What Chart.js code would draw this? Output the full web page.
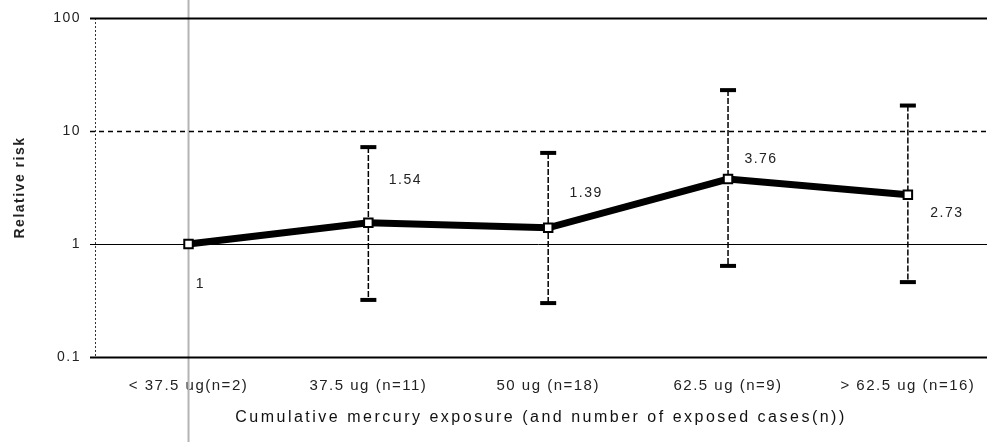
<!DOCTYPE html>
<html>
<head>
<meta charset="utf-8">
<script src="https://cdn.jsdelivr.net/npm/chart.js@4/dist/chart.umd.min.js"></script>
<style>
  html, body { margin: 0; padding: 0; background: #fff; }
  #wrap { width: 987px; height: 442px; }
</style>
</head>
<body>
<div id="wrap"><canvas id="riskChart"></canvas></div>
<script>
// -------------------- DATA --------------------
const categories = ["< 37.5 ug(n=2)", "37.5 ug (n=11)", "50 ug (n=18)", "62.5 ug (n=9)", "> 62.5 ug (n=16)"];
const relativeRisk = [1, 1.54, 1.39, 3.76, 2.73];
const upperCI = [null, 7.2, 6.4, 23, 16.8];
const lowerCI = [null, 0.32, 0.30, 0.64, 0.46];
const pointLabels = ["1", "1.54", "1.39", "3.76", "2.73"];
const yTicks = [0.1, 1, 10, 100];
const xTitle = "Cumulative mercury exposure (and number of exposed cases(n))";

// label offsets from the point (px)
const labelOffsets = [[12, 40], [37, -43], [38, -35], [33, -20], [39, 18]];

const FONT = "'Liberation Sans', Arial, sans-serif";

// -------------------- PLUGINS --------------------
const gridPlugin = {
  id: "gridPlugin",
  beforeDraw(chart) {
    // scanned text is spread out a bit
    chart.ctx.letterSpacing = "1.5px";
  },
  beforeDatasetsDraw(chart) {
    const { ctx, chartArea, scales } = chart;
    const y = scales.y;
    const x = scales.x;
    ctx.save();

    // grey vertical scan line at the first category
    const gx = x.getPixelForValue(0);
    ctx.strokeStyle = "#b4b4b4";
    ctx.lineWidth = 2;
    ctx.beginPath();
    ctx.moveTo(gx, 0);
    ctx.lineTo(gx, chart.height);
    ctx.stroke();

    // left dotted axis
    ctx.strokeStyle = "#333";
    ctx.lineWidth = 1;
    ctx.setLineDash([2, 2]);
    ctx.beginPath();
    ctx.moveTo(chartArea.left + 0.5, chartArea.top);
    ctx.lineTo(chartArea.left + 0.5, chartArea.bottom);
    ctx.stroke();

    // horizontal lines
    const lines = [
      { v: 100, w: 2, dash: [] },
      { v: 10, w: 1.5, dash: [5, 4] },
      { v: 1, w: 1, dash: [] },
      { v: 0.1, w: 2, dash: [] }
    ];
    lines.forEach((l) => {
      const py = Math.round(y.getPixelForValue(l.v)) + 0.5;
      ctx.strokeStyle = "#000";
      ctx.lineWidth = l.w;
      ctx.setLineDash(l.dash);
      ctx.beginPath();
      ctx.moveTo(chartArea.left - 5, py);
      ctx.lineTo(chartArea.right, py);
      ctx.stroke();
    });

    // error bars
    const meta = chart.getDatasetMeta(0);
    meta.data.forEach((pt, i) => {
      if (upperCI[i] == null) return;
      const px = pt.x;
      const yu = y.getPixelForValue(upperCI[i]);
      const yl = y.getPixelForValue(lowerCI[i]);
      ctx.strokeStyle = "#000";
      ctx.lineWidth = 1.5;
      ctx.setLineDash([6, 2]);
      ctx.beginPath();
      ctx.moveTo(px, yu);
      ctx.lineTo(px, yl);
      ctx.stroke();
      ctx.setLineDash([]);
      ctx.fillStyle = "#000";
      ctx.fillRect(px - 8, yu - 2, 16, 4);
      ctx.fillRect(px - 8, yl - 2, 16, 4);
    });

    ctx.restore();
  },
  afterDatasetsDraw(chart) {
    const { ctx, chartArea } = chart;
    const meta = chart.getDatasetMeta(0);
    ctx.save();
    ctx.font = "14px " + FONT;
    ctx.fillStyle = "#222";
    ctx.textAlign = "center";
    ctx.textBaseline = "middle";
    meta.data.forEach((pt, i) => {
      const off = labelOffsets[i];
      ctx.fillText(pointLabels[i], pt.x + off[0], pt.y + off[1]);
    });

    // x axis title
    ctx.letterSpacing = "2.5px";
    ctx.font = "16px " + FONT;
    ctx.fillStyle = "#111";
    ctx.fillText(xTitle, (chartArea.left + chartArea.right) / 2, 418);
    ctx.restore();
  },
  afterDraw(chart) {
    chart.ctx.letterSpacing = "0px";
  }
};

// -------------------- CHART --------------------
new Chart(document.getElementById("riskChart"), {
  type: "line",
  data: {
    datasets: [{
      data: relativeRisk.map((v, i) => ({ x: i, y: v })),
      borderColor: "#000",
      borderWidth: 7,
      pointStyle: "rect",
      pointRadius: 6,
      pointBorderWidth: 2,
      pointBackgroundColor: "#fff",
      pointBorderColor: "#000",
      tension: 0
    }]
  },
  options: {
    responsive: true,
    maintainAspectRatio: false,
    animation: false,
    layout: { autoPadding: false, padding: { top: 18, right: 0, left: 0, bottom: 0 } },
    plugins: {
      legend: { display: false },
      tooltip: { enabled: false }
    },
    scales: {
      x: {
        type: "linear",
        min: -0.52,
        max: 4.44,
        afterBuildTicks: (scale) => {
          scale.ticks = categories.map((c, i) => ({ value: i }));
        },
        ticks: {
          callback: (v) => categories[v],
          font: { size: 15, family: FONT },
          color: "#222",
          maxRotation: 0,
          autoSkip: false,
          padding: 12
        },
        grid: { display: false },
        border: { display: false },
        afterFit: (scale) => {
          scale.height = 85;
          scale.paddingLeft = 0;
          scale.paddingRight = 0;
        }
      },
      y: {
        type: "logarithmic",
        min: 0.1,
        max: 100,
        afterBuildTicks: (scale) => {
          scale.ticks = yTicks.map((v) => ({ value: v }));
        },
        ticks: {
          callback: (v) => String(v),
          font: { size: 14, family: FONT },
          color: "#222",
          padding: 6
        },
        grid: { display: false },
        border: { display: false },
        title: {
          display: true,
          text: "Relative risk",
          font: { size: 14, weight: "bold", family: FONT },
          color: "#222",
          padding: { top: 12, bottom: 0 }
        },
        afterFit: (scale) => {
          scale.width = 95;
          scale.paddingTop = 0;
          scale.paddingBottom = 0;
        }
      }
    }
  },
  plugins: [gridPlugin]
});
</script>
</body>
</html>
